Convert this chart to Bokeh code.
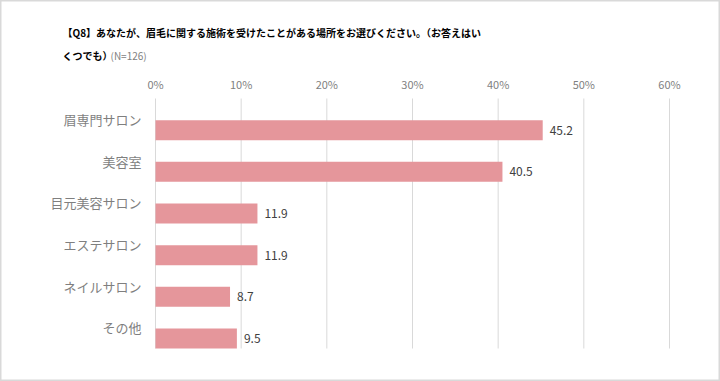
from bokeh.plotting import figure
from bokeh.models import Range1d, ColumnDataSource
from bokeh.core.properties import value
from bokeh.embed import file_html
from bokeh.resources import INLINE

categories = ["眉専門サロン", "美容室", "目元美容サロン", "エステサロン", "ネイルサロン", "その他"]
values = [45.2, 40.5, 11.9, 11.9, 8.7, 9.5]
x_ticks = [0, 10, 20, 30, 40, 50, 60]
x_tick_labels = ["0%", "10%", "20%", "30%", "40%", "50%", "60%"]
title_line1 = "【Q8】あなたが、眉毛に関する施術を受けたことがある場所をお選びください。（お答えはい"
title_line2 = "くつでも）"
n_note = "(N=126)"

FONT = "Noto Sans CJK JP"
W, H = 720, 381

# layout in pixels
PX_LEFT, PX_RIGHT = 155, 669      # x = 0 and x = 60
PX_TOP, PX_BOTTOM = 98, 348       # plot area top/bottom
XMAX = 60
n = len(categories)
sx = (PX_RIGHT - PX_LEFT) / XMAX
sy = (PX_BOTTOM - PX_TOP) / n

def dx(px):
    return (px - PX_LEFT) / sx

def dy(px):
    return (px - PX_TOP) / sy

p = figure(width=W, height=H, output_backend="svg", toolbar_location=None,
           x_range=Range1d(dx(0), dx(W)), y_range=Range1d(dy(H), dy(0)),
           x_axis_location=None, y_axis_location=None,
           min_border=0, min_border_left=0, min_border_right=0,
           min_border_top=0, min_border_bottom=0)
p.outline_line_color = "#d9d9d9"
p.outline_line_width = 2
p.background_fill_color = "white"
p.border_fill_color = "white"
p.xgrid.grid_line_color = None
p.ygrid.grid_line_color = None

# vertical gridlines
p.segment(x0=x_ticks, x1=x_ticks, y0=[0] * len(x_ticks), y1=[n] * len(x_ticks),
          line_color="#d9d9d9", line_width=1)

# tick labels on top
p.text(x=x_ticks, y=[dy(83)] * len(x_ticks), text=x_tick_labels, text_align="center",
       text_baseline="middle", text_font=value(FONT), text_font_size="11px",
       text_color="#7f7f7f")

# bars
src = ColumnDataSource(dict(y=[i + 0.76 for i in range(n)], v=values,
                            lab=[f"{v:.1f}" for v in values],
                            cy=[i + 0.5 for i in range(n)], cat=categories))
p.hbar(y="y", right="v", left=0, height=0.48, source=src, fill_color="#E5969B", line_color=None)
p.text(x="v", y="y", text="lab", source=src, x_offset=7, text_baseline="middle",
       text_align="left", text_font_size="12px", text_color="#404040", text_font=value(FONT))

# category labels
p.text(x=value(dx(141)), y="cy", text="cat", source=src, text_align="right",
       text_baseline="middle", text_font=value(FONT), text_font_size="13px",
       text_color="#7f7f7f")

# title
p.text(x=[dx(62)], y=[dy(32)], text=[title_line1], text_align="left", text_baseline="middle",
       text_font=value(FONT), text_font_size="10px", text_font_style="bold", text_color="#000000")
p.text(x=[dx(62)], y=[dy(55)], text=[title_line2], text_align="left", text_baseline="middle",
       text_font=value(FONT), text_font_size="10px", text_font_style="bold", text_color="#000000")
p.text(x=[dx(110)], y=[dy(55)], text=[n_note], text_align="left", text_baseline="middle",
       text_font=value(FONT), text_font_size="10px", text_color="#7f7f7f")

open("out.html", "w").write(file_html(p, INLINE))
